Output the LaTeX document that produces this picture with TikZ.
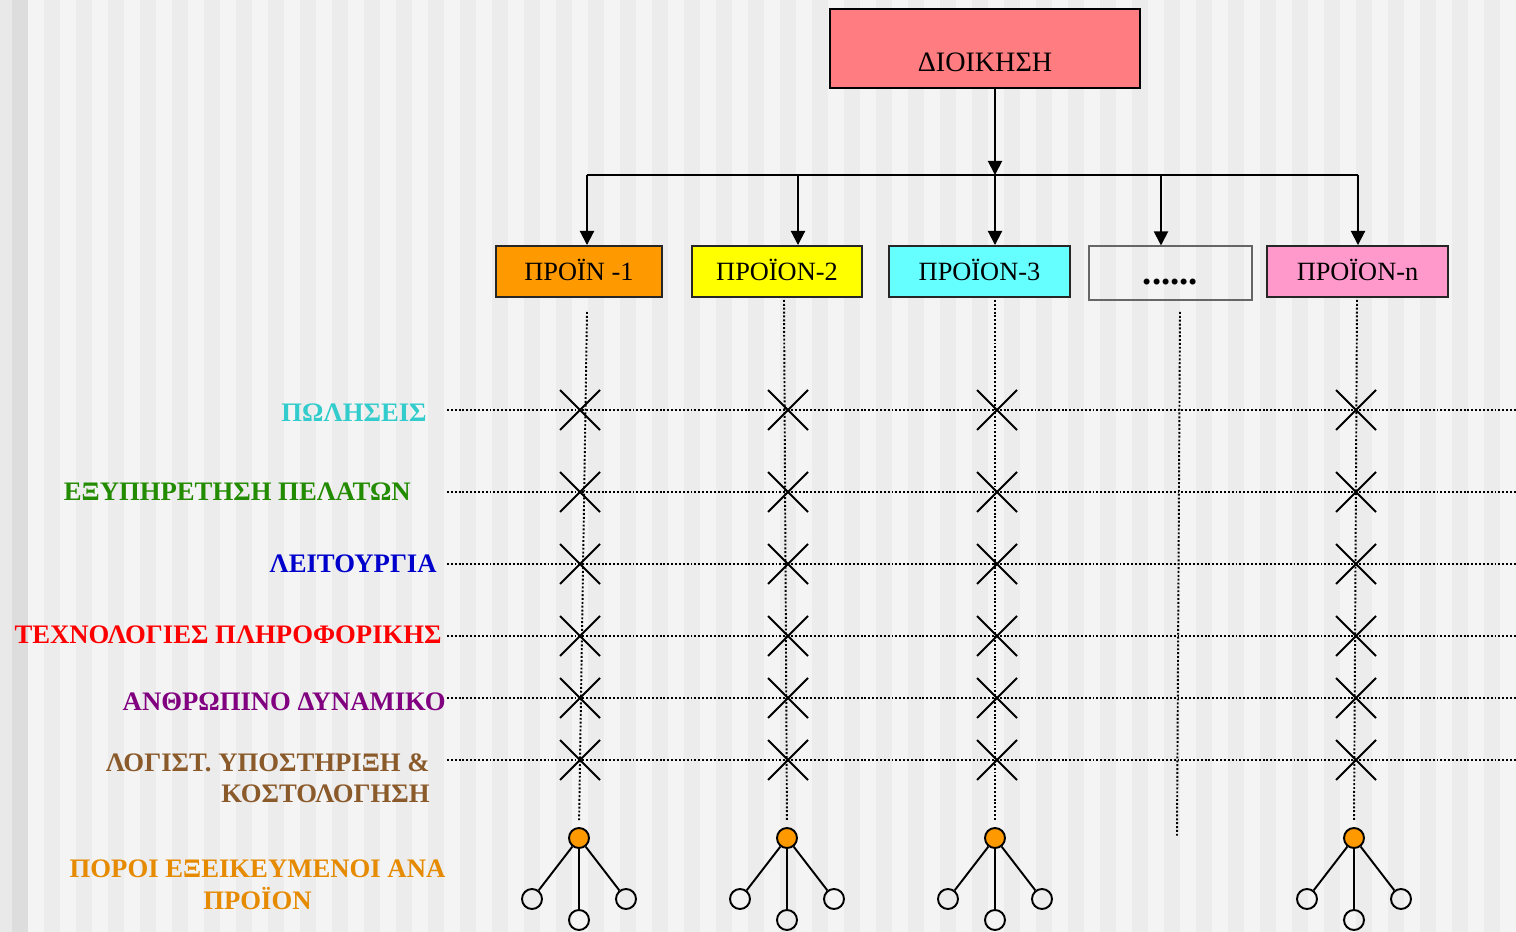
\documentclass[tikz,border=0pt]{standalone}
\usepackage{fontspec}
\setmainfont{Liberation Serif}
\usetikzlibrary{arrows.meta}
\definecolor{bgA}{HTML}{F4F4F4}
\definecolor{bgB}{HTML}{ECECEC}
\definecolor{bgL}{HTML}{E9E9E9}
\definecolor{bgD}{HTML}{DDDDDD}
\definecolor{topred}{HTML}{FF7C80}
\definecolor{orng}{HTML}{FF9900}
\definecolor{yell}{HTML}{FFFF00}
\definecolor{cyan3}{HTML}{66FFFF}
\definecolor{pnk}{HTML}{FF99CC}
\definecolor{salesc}{HTML}{33CCCC}
\definecolor{servc}{HTML}{228B00}
\definecolor{operc}{HTML}{0000CC}
\definecolor{itc}{HTML}{FF0000}
\definecolor{hrc}{HTML}{800080}
\definecolor{accc}{HTML}{8B5A2B}
\definecolor{resc}{HTML}{E68A00}
\begin{document}
\begin{tikzpicture}[x=0.02cm, y=-0.02cm,
    prod/.style = {draw=black!85, line width=1.1pt, minimum height=1.02cm, text height=0.38cm, text depth=0pt, inner sep=0pt, font=\fontsize{15}{18}\selectfont},
    arr/.style = {line width=1.1pt, -{Triangle[width=8pt,length=8pt]}},
    dots/.style = {line width=1.1pt, dash pattern=on 1.1pt off 1.1pt},
    cross/.style = {line width=1.1pt},
    lbl/.style = {font=\bfseries\fontsize{15.2}{18}\selectfont, inner sep=0pt, anchor=base east, align=right},
    res/.style = {draw, circle, line width=1.1pt, minimum size=0.4cm, inner sep=0pt}]
    % background stripes
    \useasboundingbox (0,0) rectangle (1516,932);
    \fill[bgA] (0,0) rectangle (1516,932);
    \fill[bgL] (0,0) rectangle (12,932);
    \fill[bgD] (12,0) rectangle (28,932);
    \foreach \s in {44,76,...,1516} \fill[bgB] (\s,0) rectangle ++(16,932);

    % management and products
    \node[prod, draw=black, fill=topred, minimum width=6.2cm, minimum height=1.58cm, text height=0.94cm, font=\fontsize{16}{18}\selectfont] (dioik) at (985,48.5) {ΔΙΟΙΚΗΣΗ};
    \node[prod, fill=orng, minimum width=3.32cm] (p1) at (579,271.5) {ΠΡΟΪΝ -1};
    \node[prod, fill=yell, minimum width=3.4cm] (p2) at (777,271.5) {ΠΡΟΪΟΝ-2};
    \node[prod, fill=cyan3, minimum width=3.62cm] (p3) at (979.5,271.5) {ΠΡΟΪΟΝ-3};
    \node[prod, draw=black!60, line width=0.6pt, minimum width=3.26cm, minimum height=1.08cm, text height=0.48cm, font=\bfseries\fontsize{21}{22}\selectfont] (pdots) at (1170.5,273) {......};
    \node[prod, fill=pnk, minimum width=3.62cm] (pn) at (1357.5,271.5) {ΠΡΟΪΟΝ-n};

    \coordinate (c1) at (587,175);
    \coordinate (c2) at (798,175);
    \coordinate (c3) at (995,175);
    \coordinate (c4) at (1161,175);
    \coordinate (c5) at (1358,175);
    \draw[arr] (dioik.south -| c3) -- (c3);
    \draw[line width=1.1pt] (c1) -- (c5);
    \foreach \c/\p in {c1/p1,c2/p2,c3/p3,c4/pdots,c5/pn}
        \draw[arr] (\c) -- (\c |- \p.north);

    % resources per product
    \foreach \i/\x in {1/579,2/787,3/995,5/1354} {
        \node[res, fill=orng] (r\i) at (\x,838) {};
        \node[res] (r\i a) at (\x-47,899) {};
        \node[res] (r\i b) at (\x,920) {};
        \node[res] (r\i c) at (\x+47,899) {};
        \draw[line width=1.1pt] (r\i) -- (r\i a) (r\i) -- (r\i b) (r\i) -- (r\i c);
    }

    % vertical dotted lines
    \draw[dots, shorten >=0.12cm] (587,312) -- (r1.north);
    \draw[dots, shorten >=0.12cm] (784,300) -- (r2.north);
    \draw[dots, shorten >=0.12cm] (995,300) -- (r3.north);
    \draw[dots] (1180,312) -- (1177,836);
    \draw[dots, shorten >=0.12cm] (1357,300) -- (r5.north);

    % functions
    \node[lbl, text=salesc] (sales) at (427,422) {ΠΩΛΗΣΕΙΣ};
    \node[lbl, text=servc] (serv) at (411,501) {ΕΞΥΠΗΡΕΤΗΣΗ ΠΕΛΑΤΩΝ};
    \node[lbl, text=operc] (oper) at (437,573) {ΛΕΙΤΟΥΡΓΙΑ};
    \node[lbl, text=itc] (it) at (442,643) {ΤΕΧΝΟΛΟΓΙΕΣ ΠΛΗΡΟΦΟΡΙΚΗΣ};
    \node[lbl, text=hrc] (hr) at (446,710) {ΑΝΘΡΩΠΙΝΟ ΔΥΝΑΜΙΚΟ};
    \node[lbl, text=accc] (acc) at (430,803) {ΛΟΓΙΣΤ. ΥΠΟΣΤΗΡΙΞΗ \&\\ΚΟΣΤΟΛΟΓΗΣΗ};
    \node[lbl, text=resc, anchor=base, align=center] (resl) at (257.5,909) {ΠΟΡΟΙ ΕΞΕΙΚΕΥΜΕΝΟΙ ΑΝΑ\\ΠΡΟΪΟΝ};

    \foreach \y in {410,492,564,636,698,760} {
        \draw[dots] (447,\y) -- (1516,\y);
        \foreach \x in {580,788,997,1356}
            \draw[cross] (\x-20,\y-20) -- (\x+20,\y+20) (\x-20,\y+20) -- (\x+20,\y-20);
    }
\end{tikzpicture}
\end{document}
